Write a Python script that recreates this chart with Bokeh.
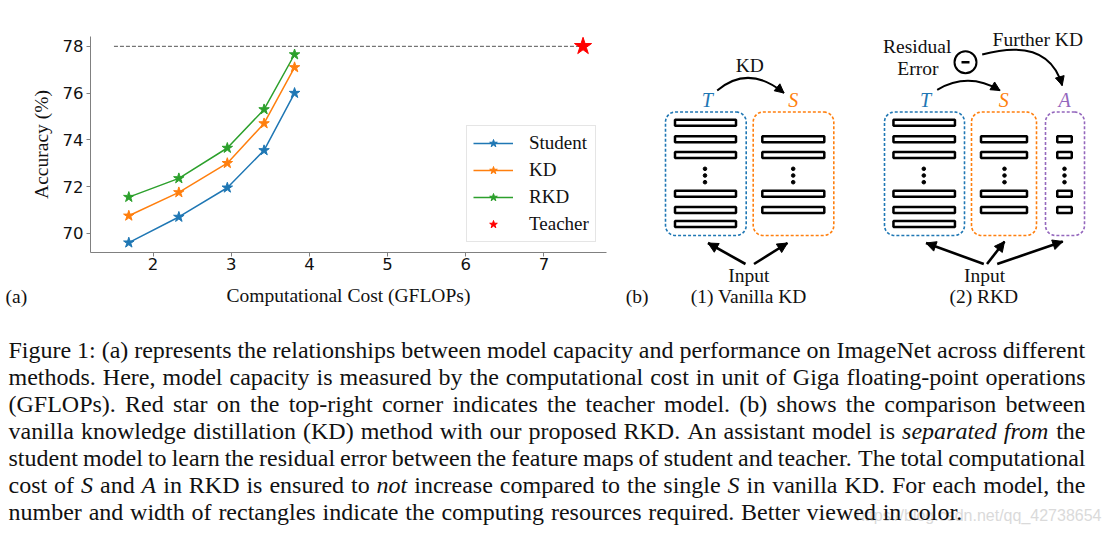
import math
import numpy as np
from bokeh.plotting import figure
from bokeh.models import Range1d, Legend, LegendItem, ColumnDataSource
from bokeh.layouts import column, row
from bokeh.embed import file_html
from bokeh.resources import INLINE
from bokeh.core.properties import value

# ---------------- data: panel (a) ----------------
gflops = [1.69, 2.33, 2.95, 3.42, 3.81]
acc_student = [69.6, 70.7, 71.95, 73.55, 76.0]
acc_kd = [70.75, 71.75, 73.0, 74.7, 77.1]
acc_rkd = [71.55, 72.35, 73.65, 75.3, 77.65]
teacher_gflops = [7.5]
teacher_acc = [78.0]
teacher_line_start = 1.5
series_names = ["Student", "KD", "RKD"]
teacher_name = "Teacher"
x_ticks = [2, 3, 4, 5, 6, 7]
y_ticks = [70, 72, 74, 76, 78]
x_label = "Computational Cost (GFLOPs)"
y_label = "Accuracy (%)"

# ---------------- text: caption ----------------
caption_lines = [
    "Figure 1: (a) represents the relationships between model capacity and performance on ImageNet across different",
    "methods. Here, model capacity is measured by the computational cost in unit of Giga floating-point operations",
    "(GFLOPs). Red star on the top-right corner indicates the teacher model. (b) shows the comparison between",
    "vanilla knowledge distillation (KD) method with our proposed RKD. An assistant model is *separated* *from* the",
    "student model to learn the residual error between the feature maps of student and teacher. The total computational",
    "cost of *S* and *A* in RKD is ensured to *not* increase compared to the single *S* in vanilla KD. For each model, the",
    "number and width of rectangles indicate the computing resources required. Better viewed in color.",
]
watermark = "https://blog.csdn.net/qq_42738654"

SERIF = "Liberation Serif"
SANS = "DejaVu Sans"
C_BLUE, C_ORANGE, C_GREEN, C_PURPLE = "#1f77b4", "#ff7f0e", "#2ca02c", "#9467bd"
INK = "#111111"


def blank(width, height, xr, yr):
    f = figure(width=width, height=height, x_range=Range1d(*xr), y_range=Range1d(*yr),
               output_backend="svg", toolbar_location=None, min_border=0,
               x_axis_location=None, y_axis_location=None)
    f.grid.visible = False
    f.outline_line_color = None
    return f


TAG_W = 27

# ================= panel tag "(a)" =================
ptag = blank(TAG_W, 310, (0, TAG_W), (310, 0))
ptag.text(x=[5], y=[296], text=["(a)"], text_font=value(SERIF), text_font_size="19.5px",
          text_color=INK, text_align="left", text_baseline="middle")

# ================= panel (a): chart =================
pa = figure(width=612 - TAG_W, height=310, x_range=Range1d(1.2, 7.8), y_range=Range1d(69.18, 78.42),
            output_backend="svg", toolbar_location=None,
            min_border_left=90 - TAG_W, min_border_right=6, min_border_top=36, min_border_bottom=58)
pa.outline_line_color = None
pa.grid.visible = False
pa.xaxis.ticker = x_ticks
pa.yaxis.ticker = y_ticks
for ax in (pa.xaxis[0], pa.yaxis[0]):
    ax.axis_line_color = "#808080"
    ax.major_tick_line_color = "#808080"
    ax.minor_tick_line_color = None
    ax.major_tick_out = 4
    ax.major_tick_in = 0
    ax.major_label_text_font = SANS
    ax.major_label_text_font_size = "16.5px"
    ax.major_label_text_color = INK
    ax.axis_label_text_font = SERIF
    ax.axis_label_text_font_size = "19.5px"
    ax.axis_label_text_font_style = "normal"
    ax.axis_label_text_color = INK
pa.xaxis.axis_label = x_label
pa.yaxis.axis_label = y_label
pa.xaxis.major_label_standoff = 1
pa.xaxis.axis_label_standoff = 12
pa.yaxis.major_label_standoff = 3
pa.yaxis.axis_label_standoff = 8

items = []
for name, ys, c in zip(series_names, [acc_student, acc_kd, acc_rkd], [C_BLUE, C_ORANGE, C_GREEN]):
    src = ColumnDataSource(dict(x=gflops, y=ys))
    ln = pa.line("x", "y", source=src, line_color=c, line_width=1.5)
    sc = pa.scatter("x", "y", source=src, marker="star", size=11, fill_color=c, line_color=c)
    items.append(LegendItem(label=name, renderers=[ln, sc]))
pa.line([teacher_line_start, teacher_gflops[0]], [teacher_acc[0], teacher_acc[0]],
        line_dash="4 2", line_color="#555555", line_width=1)
tr = pa.scatter(teacher_gflops, teacher_acc, marker="star", size=18, fill_color="red", line_color="red")
items.append(LegendItem(label=teacher_name, renderers=[tr]))

legend = Legend(items=items, location=(376, 10), orientation="vertical",
                label_text_font=SERIF, label_text_font_size="19px", label_text_color=INK,
                glyph_width=40, glyph_height=20, label_height=20, label_standoff=16,
                spacing=5, padding=6, border_line_color="#cccccc", border_line_width=1,
                background_fill_color="white", background_fill_alpha=0.9)
pa.add_layout(legend)

# ================= panel (b): diagram (page-pixel coordinates) =================
pb = blank(500, 310, (612, 1112), (310, 0))

for fig in (ptag, pa, pb):
    try:
        fig.frame_align = False
    except Exception:
        pass

ROWS_T = [122.2, 138.8, 154.5, 193.3, 209.5, 223.5]
ROWS_S = ROWS_T[1:5]
DOTS = [168.3, 175.0, 181.7]
BOX_TOP, BOX_BOT, RAD = 111.5, 235.0, 10.0
BAR_H = 6.0


def rounded_box(l, r, t, b, rad, color):
    xs, ys = [], []
    for cx, cy, a0, a1 in [(r - rad, t + rad, -90, 0), (r - rad, b - rad, 0, 90),
                           (l + rad, b - rad, 90, 180), (l + rad, t + rad, 180, 270)]:
        ang = np.radians(np.linspace(a0, a1, 10))
        xs += list(cx + rad * np.cos(ang))
        ys += list(cy + rad * np.sin(ang))
    xs.append(xs[0]); ys.append(ys[0])
    pb.line(xs, ys, line_color=color, line_width=1.6, line_dash="3 2")


def bars(cx, w, rows):
    pb.rect(x=[cx] * len(rows), y=rows, width=w, height=BAR_H,
            fill_color="white", line_color="black", line_width=2.5)


def dots(cx):
    pb.scatter(x=[cx] * 3, y=DOTS, marker="circle", size=3.6, color="black")


def head(tx, ty, fx, fy, L=9.0, W=4.5):
    dx, dy = tx - fx, ty - fy
    n = math.hypot(dx, dy)
    ux, uy = dx / n, dy / n
    bx, by = tx - L * ux, ty - L * uy
    px, py = -uy, ux
    pb.patch([tx, bx + W * px, bx - W * px], [ty, by + W * py, by - W * py],
             fill_color="black", line_color="black", line_width=1)


def curve(x0, y0, cx, cy, x1, y1):
    pb.quadratic(x0=[x0], y0=[y0], x1=[x1], y1=[y1], cx=[cx], cy=[cy],
                 line_color="black", line_width=2)
    head(x1, y1, cx, cy)


def straight(x0, y0, x1, y1):
    pb.segment(x0=[x0], y0=[y0], x1=[x1], y1=[y1], line_color="black", line_width=2.6)
    head(x1, y1, x0, y0, L=10, W=5)


def label(x, y, text, size="19.5px", color=INK, style="normal"):
    pb.text(x=[x], y=[y], text=[text], text_font=value(SERIF), text_font_size=size,
            text_color=color, text_font_style=style, text_align="center", text_baseline="middle")


# (1) Vanilla KD
rounded_box(665, 745.7, BOX_TOP, BOX_BOT, RAD, C_BLUE)
rounded_box(752.7, 833.3, BOX_TOP, BOX_BOT, RAD, C_ORANGE)
bars(705.0, 61.0, ROWS_T)
bars(792.8, 62.0, ROWS_S)
dots(704.5)
dots(792.7)
curve(716.7, 90.0, 748.0, 63.5, 783.5, 92.5)
straight(745.0, 263.5, 707.5, 242.5)
straight(753.5, 263.5, 787.0, 242.5)
label(749.3, 65.0, "KD")
label(706.7, 99.0, "T", size="20px", color=C_BLUE, style="italic")
label(792.7, 99.0, "S", size="20px", color=C_ORANGE, style="italic")
label(748.3, 275.0, "Input")
label(636.7, 296.0, "(b)")
label(748.3, 296.0, "(1) Vanilla KD")

# (2) RKD
rounded_box(884, 964, BOX_TOP, BOX_BOT, RAD, C_BLUE)
rounded_box(971, 1036, BOX_TOP, BOX_BOT, RAD, C_ORANGE)
rounded_box(1045, 1084, BOX_TOP, BOX_BOT, RAD, C_PURPLE)
bars(923.7, 61.5, ROWS_T)
bars(1003.5, 46.0, ROWS_S)
bars(1064.0, 14.5, ROWS_S)
dots(923.3)
dots(1004.0)
dots(1064.0)
curve(936.7, 89.3, 968.0, 71.0, 999.5, 90.0)
curve(981.7, 54.0, 1048.0, 36.0, 1061.7, 85.0)
pb.circle(x=[965.0], y=[61.7], radius=11, fill_color="white", line_color="black", line_width=2)
pb.segment(x0=[961.0], y0=[61.7], x1=[969.0], y1=[61.7], line_color="black", line_width=2.6)
straight(983.3, 263.5, 925.5, 242.5)
straight(986.5, 263.5, 1004.0, 241.0)
straight(996.7, 263.5, 1062.3, 241.0)
label(916.7, 45.7, "Residual")
label(917.3, 68.3, "Error")
label(1037.3, 39.3, "Further KD")
label(925.0, 99.3, "T", size="20px", color=C_BLUE, style="italic")
label(1003.3, 99.3, "S", size="20px", color=C_ORANGE, style="italic")
label(1064.0, 99.3, "A", size="20px", color=C_PURPLE, style="italic")
label(984.0, 275.0, "Input")
label(983.3, 296.0, "(2) RKD")

# ================= caption (page-pixel coordinates) =================
pc = blank(1112, 223, (0, 1112), (533, 310))

# Times-Roman / Times-Italic advance widths (1/1000 em)
W_REG = {' ': 250, '!': 333, '%': 833, '(': 333, ')': 333, ',': 250, '-': 333, '.': 250,
         '/': 278, ':': 278, ';': 278, '_': 500}
W_IT = dict(W_REG)
for ch in "0123456789":
    W_REG[ch] = 500
    W_IT[ch] = 500
for ch, w in zip("ABCDEFGHIJKLMNOPQRSTUVWXYZ",
                 [722, 667, 667, 722, 611, 556, 722, 722, 333, 389, 722, 611, 889, 722, 722, 556,
                  722, 667, 556, 611, 722, 722, 944, 722, 722, 611]):
    W_REG[ch] = w
for ch, w in zip("abcdefghijklmnopqrstuvwxyz",
                 [444, 500, 444, 500, 444, 333, 500, 500, 278, 278, 500, 278, 778, 500, 500, 500,
                  500, 333, 389, 278, 500, 500, 722, 500, 500, 444]):
    W_REG[ch] = w
for ch, w in zip("ABCDEFGHIJKLMNOPQRSTUVWXYZ",
                 [611, 611, 667, 722, 611, 611, 722, 722, 333, 444, 667, 556, 833, 667, 722, 611,
                  722, 611, 500, 556, 722, 611, 833, 611, 556, 556]):
    W_IT[ch] = w
for ch, w in zip("abcdefghijklmnopqrstuvwxyz",
                 [500, 500, 444, 500, 444, 278, 500, 500, 278, 278, 444, 278, 722, 500, 500, 500,
                  500, 389, 389, 278, 500, 444, 667, 444, 444, 389]):
    W_IT[ch] = w

FS = 24.0
LEFT = 8.0
RIGHTS = [1085, 1085, 1085, 1085, 1085, 1085, 963]
BASE0, PITCH = 349.0, 27.15

pc.text(x=[1101], y=[515], text=[watermark], text_font=value("Liberation Sans"),
        text_font_size="16px", text_color="#dadada", text_align="right", text_baseline="middle")

reg = dict(x=[], y=[], t=[])
ita = dict(x=[], y=[], t=[])
for i, line in enumerate(caption_lines):
    words = []
    for w in line.split(" "):
        if len(w) > 2 and w.startswith("*") and w.endswith("*"):
            words.append((w[1:-1], True))
        else:
            words.append((w, False))
    widths = [sum((W_IT if it else W_REG).get(ch, 500) for ch in w) * FS / 1000.0 for w, it in words]
    gap = (RIGHTS[i] - LEFT - sum(widths)) / (len(words) - 1)
    x = LEFT
    yb = BASE0 + i * PITCH
    for (w, it), wd in zip(words, widths):
        d = ita if it else reg
        d["x"].append(x); d["y"].append(yb); d["t"].append(w)
        x += wd + gap

pc.text(x="x", y="y", text="t", source=ColumnDataSource(reg), text_font=value(SERIF),
        text_font_size=f"{FS}px", text_color=INK, text_align="left", text_baseline="alphabetic")
pc.text(x="x", y="y", text="t", source=ColumnDataSource(ita), text_font=value(SERIF),
        text_font_size=f"{FS}px", text_font_style="italic", text_color=INK,
        text_align="left", text_baseline="alphabetic")

layout = column(row(ptag, pa, pb), pc)
open("out.html", "w").write(file_html(layout, INLINE))
